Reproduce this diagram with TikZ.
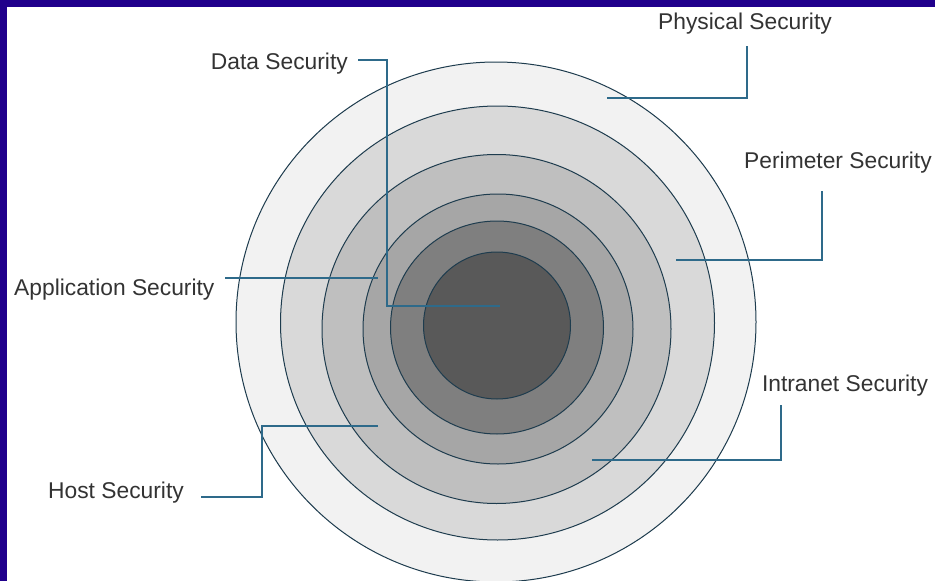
\documentclass[tikz,border=0pt]{standalone}
\usepackage{fontspec}
\setmainfont{Liberation Sans}
\begin{document}
\begin{tikzpicture}[x=1pt,y=-1pt,
  ring/.style={draw=ringline, line width=1pt},
  lead/.style={draw=leadblue, line width=1.4pt},
  lbl/.style={inner sep=0pt, font=\fontsize{22.8}{26}\selectfont, text=black!80}]
\definecolor{frame}{RGB}{32,0,140}
\definecolor{ringline}{RGB}{30,60,78}
\definecolor{leadblue}{RGB}{46,106,138}
\useasboundingbox (0,0) rectangle (935,581);
\fill[frame] (0,0) rectangle (935,581);
\fill[white] (7,7) rectangle (935,581);
\begin{scope}
\clip (7,7) rectangle (935,581);
\filldraw[ring, fill={rgb,255:red,242;green,242;blue,242}] (496,322) circle (260);
\filldraw[ring, fill={rgb,255:red,217;green,217;blue,217}] (497.5,323) circle (217);
\filldraw[ring, fill={rgb,255:red,191;green,191;blue,191}] (496.5,329) circle (174.5);
\filldraw[ring, fill={rgb,255:red,166;green,166;blue,166}] (498,329) circle (135);
\filldraw[ring, fill={rgb,255:red,127;green,127;blue,127}] (497,327.5) circle (106.5);
\filldraw[ring, fill={rgb,255:red,89;green,89;blue,89}] (497,325.5) circle (73.5);
\end{scope}
% labels
\node[lbl] (phys) at (745,24) {Physical Security};
\node[lbl, anchor=east] (data) at (348,64) {Data Security};
\node[lbl] (peri) at (838,163) {Perimeter Security};
\node[lbl, anchor=west] (app) at (14,290) {Application Security};
\node[lbl, anchor=west] (host) at (48,493) {Host Security};
\node[lbl] (intr) at (845,386) {Intranet Security};
% anchor points
\coordinate (physEnd) at (607,98);
\coordinate (dataEnd) at (500,306);
\coordinate (periEnd) at (676,260);
\coordinate (appEnd) at (378,278);
\coordinate (hostEnd) at (378,426);
\coordinate (intrEnd) at (592,460);
% leaders
\draw[lead] (747,46) -- (747,98) -- (physEnd);
\draw[lead] (358,60) -- (387,60) -- (387,306) -- (dataEnd);
\draw[lead] (822,191) -- (822,260) -- (periEnd);
\draw[lead] (225,278) -- (appEnd);
\draw[lead] (201,497) -- (262,497) -- (262,426) -- (hostEnd);
\draw[lead] (781,405) -- (781,460) -- (intrEnd);
\end{tikzpicture}
\end{document}
